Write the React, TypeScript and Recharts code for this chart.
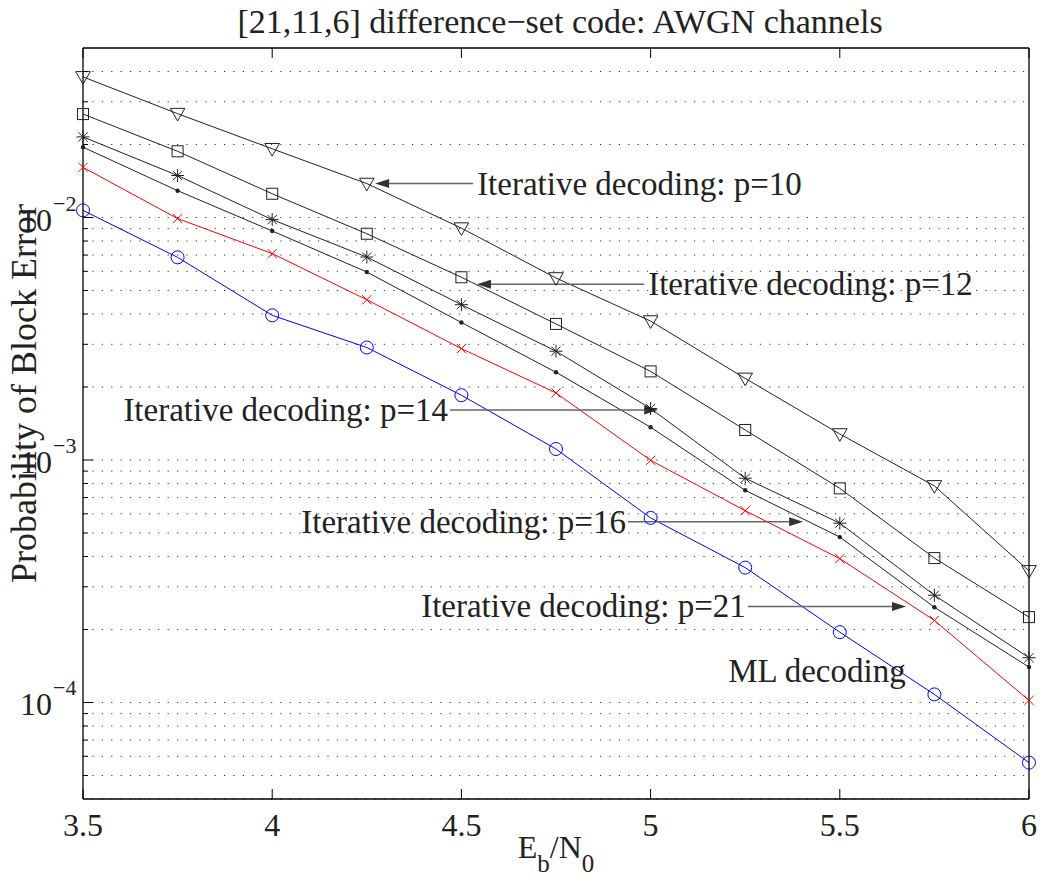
import { LineChart, Line, XAxis, YAxis, CartesianGrid, ReferenceLine, ReferenceDot } from 'recharts'

const FONT = '"Liberation Serif", "Times New Roman", Times, serif'
const INK = '#222'

// Eb/N0 (dB)
const ebn0 = [3.5, 3.75, 4, 4.25, 4.5, 4.75, 5, 5.25, 5.5, 5.75, 6]

// probability of block error per decoder
const p10 = [0.038, 0.0268, 0.0192, 0.0138, 0.00904, 0.00563, 0.00374, 0.00217, 0.00128, 0.000782, 0.000349]
const p12 = [0.0267, 0.01875, 0.01253, 0.00857, 0.00567, 0.00364, 0.00232, 0.00133, 0.000764, 0.000394, 0.000225]
const p14 = [0.0215, 0.0149, 0.0098, 0.00687, 0.00437, 0.00281, 0.00163, 0.000841, 0.000549, 0.000277, 0.000153]
const p16 = [0.0195, 0.0129, 0.0088, 0.00596, 0.00369, 0.0023, 0.001365, 0.00075, 0.000481, 0.000247, 0.00014]
const p21 = [0.0161, 0.0099, 0.0071, 0.00458, 0.00288, 0.00189, 0.000997, 0.000618, 0.000392, 0.000218, 0.000102]
const ml = [0.0107, 0.00685, 0.00395, 0.00291, 0.00185, 0.00111, 0.000577, 0.00036, 0.000195, 0.000108, 0.0000565]

const xTicks = [3.5, 4, 4.5, 5, 5.5, 6]
const yDomain = [4e-5, 0.05]
const yGrid = [
  5e-5, 6e-5, 7e-5, 8e-5, 9e-5,
  1e-4, 2e-4, 3e-4, 4e-4, 5e-4, 6e-4, 7e-4, 8e-4, 9e-4,
  1e-3, 2e-3, 3e-3, 4e-3, 5e-3, 6e-3, 7e-3, 8e-3, 9e-3,
  1e-2, 2e-2, 3e-2, 4e-2,
]

// arrow annotations: text, arrow tail x, arrow head x, y
const noteText = [
  'Iterative decoding: p=10',
  'Iterative decoding: p=12',
  'Iterative decoding: p=14',
  'Iterative decoding: p=16',
  'Iterative decoding: p=21',
]
const noteTail = [4.531, 4.983, 4.47, 4.94, 5.257]
const noteHead = [4.272, 4.541, 5.02, 5.403, 5.675]
const noteY = [0.0138, 0.0053, 0.001607, 0.000557, 0.000249]
const mlNote = { text: 'ML decoding', x: 5.205, y: 0.000133 }

const rows = ebn0.map((x, i) => ({
  x,
  p10: p10[i],
  p12: p12[i],
  p14: p14[i],
  p16: p16[i],
  p21: p21[i],
  ml: ml[i],
}))

const isDecade = (v: number) => Math.abs(Math.log10(v) - Math.round(Math.log10(v))) < 1e-6

function LeftTick({ x, y, payload }: any) {
  const v = payload.value
  const major = isDecade(v)
  return (
    <g>
      <line x1={x} x2={x + (major ? 10 : 5)} y1={y} y2={y} stroke="#000" strokeWidth={1} />
      {major && (
        <g fontFamily={FONT} fill={INK}>
          <text x={x - 31} y={y + 13} textAnchor="end" fontSize={32}>10</text>
          <text x={x - 30} y={y - 7} textAnchor="start" fontSize={22}>
            {'\u2212' + Math.abs(Math.round(Math.log10(v)))}
          </text>
        </g>
      )}
    </g>
  )
}

function RightTick({ x, y, payload }: any) {
  const major = isDecade(payload.value)
  return <line x1={x} x2={x - (major ? 10 : 5)} y1={y} y2={y} stroke="#000" strokeWidth={1} />
}

function BottomTick({ x, y, payload }: any) {
  return (
    <g>
      <line x1={x} x2={x} y1={y} y2={y - 10} stroke="#000" strokeWidth={1} />
      <text x={x} y={y + 37} textAnchor="middle" fontSize={32} fontFamily={FONT} fill={INK}>
        {payload.value}
      </text>
    </g>
  )
}

function TopTick({ x, y }: any) {
  return <line x1={x} x2={x} y1={y} y2={y + 10} stroke="#000" strokeWidth={1} />
}

function Title({ viewBox }: any) {
  return (
    <text x={viewBox.x + viewBox.width / 2 + 4} y={viewBox.y + 33} textAnchor="middle" fontSize={34} fontFamily={FONT} fill={INK}>
      [21,11,6] difference{'\u2212'}set code: AWGN channels
    </text>
  )
}

function XTitle({ viewBox }: any) {
  return (
    <text x={viewBox.x + viewBox.width / 2} y={viewBox.y + 59} textAnchor="middle" fontSize={32} fontFamily={FONT} fill={INK}>
      E<tspan fontSize={25} dy={14}>b</tspan>
      <tspan dy={-14}>/N</tspan>
      <tspan fontSize={25} dy={14}>0</tspan>
    </text>
  )
}

function YTitle({ viewBox }: any) {
  const cx = viewBox.x + 36
  const cy = viewBox.y + viewBox.height / 2 - 30
  return (
    <text x={cx} y={cy} transform={`rotate(-90 ${cx} ${cy})`} textAnchor="middle" fontSize={36} fontFamily={FONT} fill={INK}>
      Probability of Block Error
    </text>
  )
}

function arrowShape(text: string) {
  return ({ x1, y1, x2, y2 }: any) => {
    const dir = x2 > x1 ? 1 : -1
    const head = 14
    return (
      <g>
        <line x1={x1} y1={y1} x2={x2 - dir * head} y2={y2} stroke="#666" strokeWidth={1.5} />
        <polygon points={`${x2},${y2} ${x2 - dir * head},${y2 - 4.5} ${x2 - dir * head},${y2 + 4.5}`} fill="#333" />
        <text
          x={dir > 0 ? x1 - 2 : x1 + 4}
          y={y1 + 11}
          textAnchor={dir > 0 ? 'end' : 'start'}
          fontSize={33}
          fontFamily={FONT}
          fill={INK}
        >
          {text}
        </text>
      </g>
    )
  }
}

const triangleDot = ({ cx, cy, index }: any) => (
  <polygon key={index} points={`${cx - 7.3},${cy - 5.3} ${cx + 7.3},${cy - 5.3} ${cx},${cy + 7.3}`} fill="none" stroke={INK} strokeWidth={1} />
)
const squareDot = ({ cx, cy, index }: any) => (
  <rect key={index} x={cx - 5.5} y={cy - 5.5} width={11} height={11} fill="none" stroke={INK} strokeWidth={1} />
)
const starDot = ({ cx, cy, index }: any) => (
  <g key={index} stroke={INK} strokeWidth={1}>
    <line x1={cx - 6.5} x2={cx + 6.5} y1={cy} y2={cy} />
    <line x1={cx} x2={cx} y1={cy - 6.5} y2={cy + 6.5} />
    <line x1={cx - 4.6} x2={cx + 4.6} y1={cy - 4.6} y2={cy + 4.6} />
    <line x1={cx - 4.6} x2={cx + 4.6} y1={cy + 4.6} y2={cy - 4.6} />
  </g>
)
const pointDot = ({ cx, cy, index }: any) => <circle key={index} cx={cx} cy={cy} r={2.2} fill={INK} stroke="none" />
const crossDot = ({ cx, cy, index }: any) => (
  <g key={index} stroke="#ff0000" strokeWidth={1}>
    <line x1={cx - 4.6} x2={cx + 4.6} y1={cy - 4.6} y2={cy + 4.6} />
    <line x1={cx - 4.6} x2={cx + 4.6} y1={cy + 4.6} y2={cy - 4.6} />
  </g>
)
const circleDot = ({ cx, cy, index }: any) => (
  <circle key={index} cx={cx} cy={cy} r={6.5} fill="none" stroke="#0000ff" strokeWidth={1} />
)

export default function App() {
  const axisLine = { stroke: '#000', strokeWidth: 1.3 }
  return (
    <div style={{ position: 'absolute', left: 0, top: 0, background: '#fff' }}>
      <LineChart width={1056} height={883} data={rows} margin={{ top: 0, right: 0, bottom: 0, left: 0 }}>
        <CartesianGrid vertical={false} stroke="#333" strokeDasharray="1.2 8.2" />
        <XAxis
          dataKey="x"
          type="number"
          domain={[3.5, 6]}
          ticks={xTicks}
          interval={0}
          height={84}
          tickSize={0}
          tickMargin={0}
          tickLine={false}
          axisLine={axisLine}
          tick={<BottomTick />}
          label={XTitle}
        />
        <XAxis
          xAxisId="top"
          orientation="top"
          dataKey="x"
          type="number"
          domain={[3.5, 6]}
          ticks={xTicks}
          interval={0}
          height={48}
          tickSize={0}
          tickMargin={0}
          tickLine={false}
          axisLine={axisLine}
          tick={<TopTick />}
          label={Title}
        />
        <YAxis
          scale="log"
          type="number"
          domain={yDomain}
          ticks={yGrid}
          interval={0}
          width={83}
          tickSize={0}
          tickMargin={0}
          tickLine={false}
          axisLine={axisLine}
          tick={<LeftTick />}
          label={YTitle}
        />
        <YAxis
          yAxisId="right"
          orientation="right"
          scale="log"
          type="number"
          domain={yDomain}
          ticks={yGrid}
          interval={0}
          width={27}
          tickSize={0}
          tickMargin={0}
          tickLine={false}
          axisLine={axisLine}
          tick={<RightTick />}
        />
        <Line dataKey="p10" stroke={INK} strokeWidth={1} dot={triangleDot} isAnimationActive={false} />
        <Line dataKey="p12" stroke={INK} strokeWidth={1} dot={squareDot} isAnimationActive={false} />
        <Line dataKey="p14" stroke={INK} strokeWidth={1} dot={starDot} isAnimationActive={false} />
        <Line dataKey="p16" stroke={INK} strokeWidth={1} dot={pointDot} isAnimationActive={false} />
        <Line dataKey="p21" stroke="#ff0000" strokeWidth={1} dot={crossDot} isAnimationActive={false} />
        <Line dataKey="ml" stroke="#0000ff" strokeWidth={1} dot={circleDot} isAnimationActive={false} />
        {noteText.map((t, i) => (
          <ReferenceLine
            key={t}
            segment={[
              { x: noteTail[i], y: noteY[i] },
              { x: noteHead[i], y: noteY[i] },
            ]}
            shape={arrowShape(t)}
          />
        ))}
        <ReferenceDot
          x={mlNote.x}
          y={mlNote.y}
          r={0}
          shape={({ cx, cy }: any) => (
            <text x={cx} y={cy + 10} fontSize={33} fontFamily={FONT} fill={INK}>
              {mlNote.text}
            </text>
          )}
        />
      </LineChart>
    </div>
  )
}
